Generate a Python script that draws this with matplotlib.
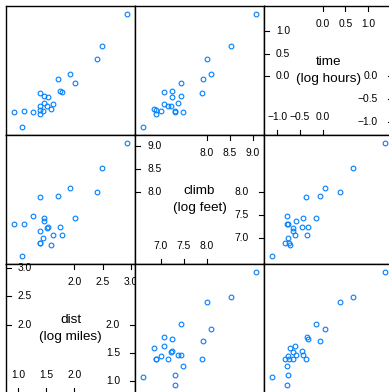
import matplotlib
matplotlib.use("Agg")
import matplotlib.pyplot as plt

plt.rcParams['font.family'] = ['Liberation Sans', 'DejaVu Sans']

# log values (23 races)
dist = [2.938, 2.487, 2.397, 1.915, 1.706, 2.014, 1.385, 1.742, 1.777, 1.457,
        1.533, 1.385, 1.461, 1.611, 1.503, 1.390, 1.443, 1.574, 0.920, 1.100,
        1.254, 1.385, 1.067]
climb = [9.076, 8.527, 7.997, 8.090, 7.921, 7.448, 7.885, 7.251, 7.076, 7.428,
         7.251, 7.161, 7.369, 7.076, 7.228, 6.885, 7.003, 6.837, 7.299, 7.296,
         7.485, 6.890, 6.606]
time = [1.378, 0.679, 0.382, 0.048, -0.049, -0.146, -0.371, -0.331, -0.351, -0.437,
        -0.454, -0.648, -0.594, -0.611, -0.665, -0.751, -0.757, -0.725, -0.794, -0.765,
        -0.788, -0.840, -1.122]

var_data = [dist, climb, time]
var_names = ["dist\n(log miles)", "climb\n(log feet)", "time\n(log hours)"]
ticks_low = [[1.0, 1.5, 2.0], [7.0, 7.5, 8.0], [-1.0, -0.5, 0.0]]
ticks_high = [[2.0, 2.5, 3.0], [8.0, 8.5, 9.0], [0.0, 0.5, 1.0]]

W, H = 389, 392
PAN = 129
OFF = 6
fig = plt.figure(figsize=(W / 100, H / 100), dpi=100)


def lims(v):
    r = max(v) - min(v)
    return min(v) - 0.07 * r, max(v) + 0.07 * r


def fmt(v):
    return "{:.1f}".format(v).replace("-", "\u2212")


def diag_panel(ax, name, lo_ticks, hi_ticks):
    ax.text(0.5, 0.5, name, transform=ax.transAxes, ha='center', va='center',
            fontsize=9.7, linespacing=1.45)
    tl = 5 / PAN
    bx = ax.get_xaxis_transform()
    by = ax.get_yaxis_transform()
    kw = dict(color='black', lw=0.8, clip_on=False)
    for v in hi_ticks:
        ax.plot([0, tl], [v, v], transform=by, **kw)
        ax.text(12 / PAN, v, fmt(v), transform=by, ha='left', va='center', fontsize=7.4)
        ax.plot([v, v], [1, 1 - tl], transform=bx, **kw)
        ax.text(v, 1 - 18 / PAN, fmt(v), transform=bx, ha='center', va='center', fontsize=7.4)
    for v in lo_ticks:
        ax.plot([1 - tl, 1], [v, v], transform=by, **kw)
        ax.text(1 - 15 / PAN, v, fmt(v), transform=by, ha='right', va='center', fontsize=7.4)
        ax.plot([v, v], [0, tl], transform=bx, **kw)
        ax.text(v, 18 / PAN, fmt(v), transform=bx, ha='center', va='center', fontsize=7.4)


for r in range(3):
    for j in range(3):
        yi = 2 - r
        ax = fig.add_axes([(OFF + PAN * j) / W, (H - OFF - PAN * (r + 1)) / H, PAN / W, PAN / H])
        ax.set_xlim(lims(var_data[j]))
        ax.set_ylim(lims(var_data[yi]))
        ax.set_xticks([])
        ax.set_yticks([])
        for s in ax.spines.values():
            s.set_linewidth(1.0)
            s.set_color('black')
        if yi == j:
            diag_panel(ax, var_names[j], ticks_low[j], ticks_high[j])
        else:
            ax.plot(var_data[j], var_data[yi], 'o', mfc='none', mec='#0080ff',
                    ms=3.4, mew=0.8)

fig.savefig("out.png", dpi=100)
